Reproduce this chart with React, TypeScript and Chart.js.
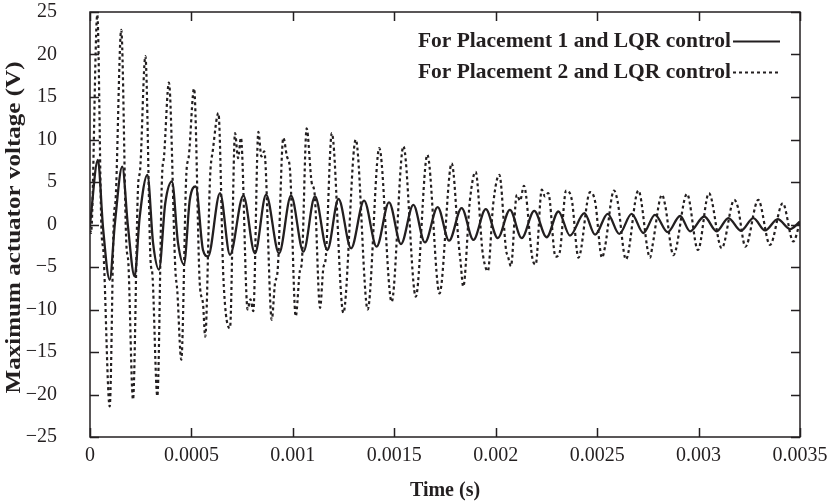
import React, { useEffect, useRef } from 'react';
import { Chart, registerables } from 'chart.js';

Chart.register(...registerables);

const INK = '#231f20';
const FONT = '"Liberation Serif", "Times New Roman", serif';

const seriesLabels = ['For Placement 1 and LQR control', 'For Placement 2 and LQR control'];
const xAxisTitle = 'Time (s)';
const yAxisTitle = 'Maximum actuator voltage (V)';

const xTickValues = [0, 0.0005, 0.001, 0.0015, 0.002, 0.0025, 0.003, 0.0035];
const xTickLabels = ['0', '0.0005', '0.001', '0.0015', '0.002', '0.0025', '0.003', '0.0035'];
const yTickValues = [-25, -20, -15, -10, -5, 0, 5, 10, 15, 20, 25];
const yTickLabels = ['\u221225', '\u221220', '\u221215', '\u221210', '\u22125', '0', '5', '10', '15', '20', '25'];

// Placement 1 (solid) — time in microseconds, voltage in V
const placement1TimeUs = [
  0, 39, 64, 97, 123, 159, 187, 220, 245, 283, 311, 340, 371, 404, 434, 463, 492, 521, 557, 582,
  641, 690, 756, 813, 868, 932, 991, 1052, 1109, 1170, 1225, 1287, 1351, 1413, 1474, 1533, 1594, 1651, 1714, 1770,
  1832, 1890, 1951, 2010, 2070, 2128, 2190, 2251, 2309, 2366, 2437, 2490, 2552, 2609, 2670, 2728, 2785, 2848, 2909, 2958,
  3028, 3089, 3147, 3209, 3270, 3328, 3390, 3451, 3500,
];
const placement1Voltage = [
  0, 7.6, -0.3, -6.5, 0.2, 6.8, -0.2, -6.1, 0.9, 5.85, -2.2, -5.3, 2.5, 5.06, -2.2, -4.7, 2.9, 4.47, -3.0, -3.76,
  3.7, -3.56, 3.4, -3.4, 3.5, -3.4, 3.4, -3.2, 3.3, -3.0, 3.0, -2.8, 2.8, -2.6, 2.6, -2.3, 2.3, -2.1, 2.05, -1.9,
  1.93, -1.8, 1.8, -1.6, 1.73, -1.6, 1.6, -1.5, 1.53, -1.3, 1.34, -1.2, 1.26, -1.1, 1.26, -1.0, 1.14, -0.9, 1.0, -0.8,
  0.94, -0.8, 0.75, -0.74, 0.75, -0.7, 0.64, -0.54, 0.35,
];

// Placement 2 (dashed) — time in microseconds, voltage in V
const placement2TimeUs = [
  0, 5, 36, 56, 67, 97, 118, 126, 154, 179,
  189, 212, 237, 247, 273, 299, 307, 332, 355, 365,
  389, 421, 430, 450, 475, 487, 513, 541, 557, 568,
  592, 606, 633, 658, 690, 715, 730, 744, 777, 791,
  805, 830, 845, 859, 896, 912, 925, 953, 971, 986,
  1014, 1035, 1044, 1068, 1093, 1107, 1134, 1151, 1161, 1192,
  1249, 1310, 1369, 1426, 1487, 1545, 1606, 1663, 1723, 1783,
  1819, 1826, 1840, 1873, 1901, 1934, 1944, 1961, 1988, 2018,
  2051, 2061, 2075, 2104, 2120, 2139, 2181, 2197, 2227, 2243,
  2259, 2295, 2315, 2347, 2375, 2408, 2465, 2490, 2524, 2539,
  2583, 2601, 2642, 2703, 2761, 2772, 2820, 2835, 2876, 2943,
  2997, 3051, 3114, 3176, 3193, 3231, 3294, 3352, 3415, 3467,
  3500,
];
const placement2Voltage = [
  0, -1, 24.7, -0.2, -3.5, -21.4, 1.0, 2.8, 22.9, -2.2,
  -4.5, -20.6, 4.5, 6.4, 19.8, -4.5, -5.7, -20.2, 5.6, 8.0,
  16.7, -5.4, -7.7, -15.9, 6.0, 8.0, 16.0, -6.9, -9.3, -13.2,
  5.6, 8.8, 13.1, -6.5, -12.2, 10.75, 7.8, 10.2, -10.0, -8.8,
  -10.2, 10.9, 8.0, 8.6, -11.2, -6.9, -5.4, 10.2, 8.0, 6.4,
  -10.8, -5.4, -4.5, 11.3, 4.9, 3.7, -9.8, -5.0, -4.2, 10.75,
  -10.4, 10.0, -10.0, 9.0, -9.1, 9.2, -8.5, 8.2, -8.1, 7.2,
  -2.7, -4.2, -7.3, 2.9, 6.2, -3.0, -4.5, -5.5, 2.5, 5.85,
  -3.0, -3.8, -4.9, 3.5, 2.8, 4.55, -4.0, -4.7, 4.1, 3.3,
  3.7, -3.8, -3.3, 4.0, 2.9, -3.9, 3.8, 2.7, -3.9, -2.6,
  4.0, 2.7, -4.1, 4.0, -3.9, -2.6, 3.5, 2.3, -3.6, 3.6,
  -3.0, 3.7, -2.8, 2.9, 2.1, -2.6, 2.9, -2.4, 2.5, -2.0,
  0.3,
];

const DASH = [3, 3];

const toPoints = (times: number[], values: number[]) =>
  times.map((t, i) => ({ x: t * 1e-6, y: values[i] }));

const framePlugin = {
  id: 'frameAndLegend',
  afterDatasetsDraw(chart: any) {
    const { ctx, chartArea: a, scales } = chart;
    ctx.save();
    ctx.strokeStyle = INK;
    ctx.lineWidth = 1.5;
    ctx.setLineDash([]);
    ctx.strokeRect(a.left, a.top, a.right - a.left, a.bottom - a.top);
    const L = 9;
    ctx.beginPath();
    scales.x.ticks.forEach((t: any) => {
      const px = Math.round(scales.x.getPixelForValue(t.value)) + 0.5;
      ctx.moveTo(px, a.bottom);
      ctx.lineTo(px, a.bottom - L);
      ctx.moveTo(px, a.top);
      ctx.lineTo(px, a.top + L);
    });
    scales.y.ticks.forEach((t: any) => {
      const py = Math.round(scales.y.getPixelForValue(t.value)) + 0.5;
      ctx.moveTo(a.left, py);
      ctx.lineTo(a.left + L, py);
      ctx.moveTo(a.right, py);
      ctx.lineTo(a.right - L, py);
    });
    ctx.stroke();

    // legend (text, then line sample to its right)
    ctx.font = `bold 21.5px ${FONT}`;
    ctx.fillStyle = INK;
    ctx.textAlign = 'right';
    ctx.textBaseline = 'middle';
    const textRight = 731;
    const rows = [41, 72];
    chart.data.datasets.forEach((ds: any, i: number) => {
      const y = rows[i];
      ctx.fillText(ds.label, textRight, y);
      ctx.beginPath();
      ctx.lineWidth = 2;
      ctx.setLineDash(ds.borderDash || []);
      ctx.moveTo(textRight + 2, y + 0.5);
      ctx.lineTo(780, y + 0.5);
      ctx.stroke();
    });
    ctx.restore();

    // y-axis title: rotated, slightly stretched along its length as in the source figure
    ctx.save();
    ctx.font = `bold 21px ${FONT}`;
    ctx.fillStyle = INK;
    ctx.textAlign = 'center';
    ctx.textBaseline = 'middle';
    const w = ctx.measureText(yAxisTitle).width;
    const target = 332;
    ctx.translate(15, (a.top + a.bottom) / 2 + 3);
    ctx.rotate(-Math.PI / 2);
    ctx.scale(target / w, 1);
    ctx.fillText(yAxisTitle, 0, 0);
    ctx.restore();
  },
};

export default function App() {
  const ref = useRef<HTMLCanvasElement | null>(null);

  useEffect(() => {
    if (!ref.current) return;
    const chart = new Chart(ref.current, {
      type: 'line',
      data: {
        datasets: [
          {
            label: seriesLabels[0],
            data: toPoints(placement1TimeUs, placement1Voltage),
            borderColor: INK,
            borderWidth: 2.3,
            pointRadius: 0,
            cubicInterpolationMode: 'monotone',
            fill: false,
          },
          {
            label: seriesLabels[1],
            data: toPoints(placement2TimeUs, placement2Voltage),
            borderColor: INK,
            borderWidth: 2.2,
            borderDash: DASH,
            pointRadius: 0,
            cubicInterpolationMode: 'monotone',
            fill: false,
          },
        ],
      },
      options: {
        animation: false,
        responsive: false,
        events: [],
        layout: { padding: { left: 0, right: 29, top: 12, bottom: 0 } },
        plugins: { legend: { display: false }, tooltip: { enabled: false } },
        scales: {
          x: {
            type: 'linear',
            min: 0,
            max: 0.0035,
            afterBuildTicks: (s: any) => {
              s.ticks = xTickValues.map((v) => ({ value: v }));
            },
            afterFit: (s: any) => {
              s.height = 67;
              s.paddingLeft = 0;
              s.paddingRight = 0;
            },
            ticks: {
              callback: (_v: any, i: number) => xTickLabels[i],
              font: { family: FONT, size: 20 },
              color: INK,
              padding: 7,
              maxRotation: 0,
              autoSkip: false,
            },
            grid: { display: false, drawTicks: false },
            border: { display: false },
            title: {
              display: true,
              text: xAxisTitle,
              font: { family: FONT, size: 20, weight: 'bold' },
              color: INK,
              padding: { top: 0, bottom: 1 },
            },
          },
          y: {
            type: 'linear',
            min: -25,
            max: 25,
            afterBuildTicks: (s: any) => {
              s.ticks = yTickValues.map((v) => ({ value: v }));
            },
            afterFit: (s: any) => {
              s.width = 90;
              s.paddingTop = 0;
              s.paddingBottom = 0;
            },
            ticks: {
              callback: (_v: any, i: number) => yTickLabels[i],
              font: { family: FONT, size: 20 },
              color: INK,
              padding: 33,
              autoSkip: false,
            },
            grid: { display: false, drawTicks: false },
            border: { display: false },
            title: { display: false },
          },
        },
      },
      plugins: [framePlugin],
    } as any);
    return () => chart.destroy();
  }, []);

  return (
    <div style={{ position: 'fixed', left: 0, top: 0, width: 829, height: 504, background: '#fff' }}>
      <canvas ref={ref} width={829} height={504} style={{ display: 'block' }} />
    </div>
  );
}
